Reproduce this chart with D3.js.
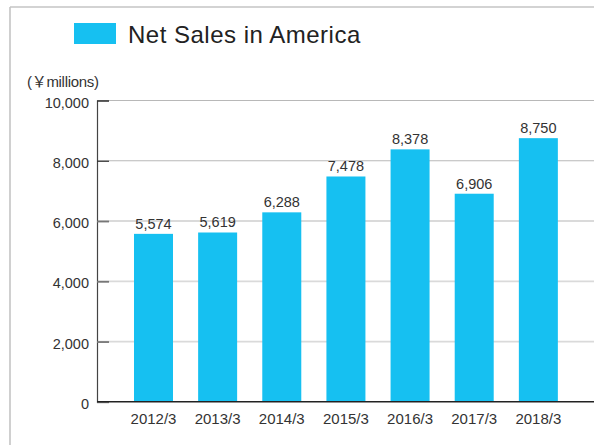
<!DOCTYPE html>
<html>
<head>
<meta charset="utf-8">
<script src="https://cdn.jsdelivr.net/npm/d3@7/dist/d3.min.js"></script>
<style>
  html, body { margin: 0; padding: 0; background: #fff; }
  svg { display: block; }
  text { font-family: "Liberation Sans", Arial, "Noto Sans CJK JP", sans-serif; fill: #333; }
</style>
</head>
<body>
<svg id="chart" width="594" height="445"></svg>
<script>
const categories = ["2012/3", "2013/3", "2014/3", "2015/3", "2016/3", "2017/3", "2018/3"];
const netSales = [5574, 5619, 6288, 7478, 8378, 6906, 8750];
const yTicks = [0, 2000, 4000, 6000, 8000, 10000];
const seriesName = "Net Sales in America";
const unitLabel = "(￥millions)";

const W = 594, H = 445;
const barColor = "#16c0f1";
const svg = d3.select("#chart");

// frame lines
svg.append("line").attr("x1", 10).attr("x2", W).attr("y1", 7).attr("y2", 7)
  .attr("stroke", "#c4c4c4").attr("stroke-width", 1.6);
svg.append("line").attr("x1", 10).attr("x2", 10).attr("y1", 7).attr("y2", H)
  .attr("stroke", "#c4c4c4").attr("stroke-width", 1.6);

// legend
svg.append("rect").attr("x", 74).attr("y", 23).attr("width", 42).attr("height", 21).attr("fill", barColor);
svg.append("text").attr("x", 128).attr("y", 43).attr("font-size", 24)
  .attr("letter-spacing", 0.5).style("fill", "#222").text(seriesName);

// scales
const plotLeft = 97, plotRight = W;
const y = d3.scaleLinear().domain([0, 10000]).range([401.8, 100.5]);
const x = d3.scaleBand().domain(categories).range([108.85, 583]).paddingInner(0.392).paddingOuter(0.392);

// unit label
svg.append("text").attr("x", 27).attr("y", 87).attr("font-size", 15).attr("letter-spacing", -0.3).text(unitLabel);

// gridlines
svg.append("g").selectAll("line").data(yTicks.filter(d => d > 0)).join("line")
  .attr("x1", plotLeft).attr("x2", plotRight)
  .attr("y1", d => y(d)).attr("y2", d => y(d))
  .attr("stroke", d => d >= 8000 ? "#b8b8b8" : "#dadada")
  .attr("stroke-width", d => d >= 8000 ? 1.2 : 1.8);

// y axis
const yAxis = svg.append("g").attr("transform", `translate(${plotLeft},0)`)
  .call(d3.axisRight(y).tickValues(yTicks).tickSize(12).tickFormat(""));
yAxis.select(".domain").attr("stroke", "#444").attr("stroke-width", 1.2);
yAxis.selectAll(".tick line").attr("stroke", d => d >= 8000 ? "#333" : "#777")
  .attr("stroke-width", d => d >= 8000 ? 1.2 : 1.8);

svg.append("g").selectAll("text").data(yTicks).join("text")
  .attr("x", 89).attr("y", d => y(d) + 7).attr("text-anchor", "end")
  .attr("font-size", 14.5).text(d => d3.format(",")(d));

// bars
svg.append("g").selectAll("rect").data(netSales).join("rect")
  .attr("x", (d, i) => x(categories[i]))
  .attr("y", d => y(d))
  .attr("width", x.bandwidth())
  .attr("height", d => y(0) - y(d))
  .attr("fill", barColor);

// value labels
svg.append("g").selectAll("text").data(netSales).join("text")
  .attr("x", (d, i) => x(categories[i]) + x.bandwidth() / 2)
  .attr("y", d => y(d) - 5)
  .attr("text-anchor", "middle").attr("font-size", 14.5)
  .text(d => d3.format(",")(d));

// x axis
const xAxis = svg.append("g").attr("transform", `translate(0,${y(0)})`);
xAxis.append("line").attr("x1", plotLeft).attr("x2", plotRight).attr("y1", 0).attr("y2", 0)
  .attr("stroke", "#222").attr("stroke-width", 1.6);
xAxis.selectAll("text").data(categories).join("text")
  .attr("x", d => x(d) + x.bandwidth() / 2).attr("y", 22)
  .attr("text-anchor", "middle").attr("font-size", 15).text(d => d);
</script>
</body>
</html>
